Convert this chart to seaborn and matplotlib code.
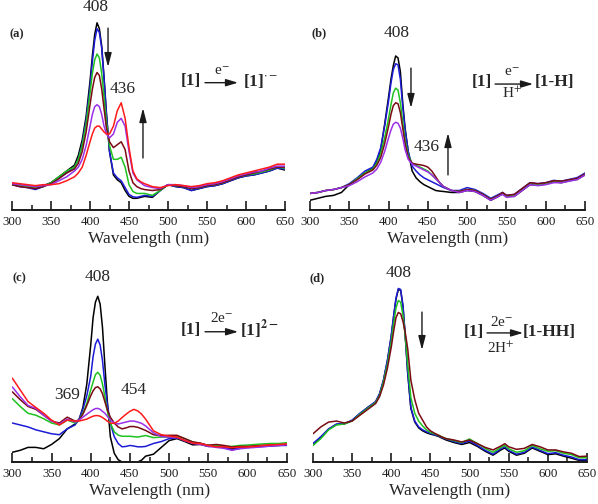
import matplotlib
matplotlib.use("Agg")
import matplotlib.pyplot as plt
import seaborn as sns
import pandas as pd

# wavelength grid (nm) shared by all spectra
WL = [300, 310, 320, 330, 340, 350, 360, 370, 380,
      385, 390, 395, 400,
      403, 406, 409, 412, 415, 418, 421,
      425, 430, 435, 440, 445, 450, 455, 460, 465, 470,
      480, 490, 500, 510, 520, 530, 540,
      545,
      550, 560, 570, 580, 590, 600, 610, 620, 630, 640, 650]

# (a) [1] + e-
A_BLACK = [.13, .125, .12, .11, .125, .14, .17, .2, .23,
           .28, .36, .48, .66,
           .79, .9, .96, .93, .84, .68, .5,
           .3, .18, .155, .14, .1, .07, .06, .06, .065, .07,
           .065, .1, .13, .12, .115, .1, .11,
           .115,
           .12, .125, .135, .15, .165, .175, .18, .19, .2, .215, .205]
A_BLUE = [.13, .12, .115, .105, .12, .14, .165, .19, .22,
          .26, .34, .46, .63,
          .76, .87, .93, .91, .83, .67, .49,
          .3, .19, .165, .15, .115, .08, .068, .065, .07, .075,
          .07, .1, .13, .12, .115, .1, .11,
          .115,
          .12, .125, .135, .15, .165, .175, .18, .19, .2, .215, .21]
A_GREEN = [.13, .125, .12, .115, .12, .14, .17, .2, .22,
           .26, .33, .44, .6,
           .7, .77, .8, .78, .7, .58, .45,
           .33, .26, .26, .27, .22, .13, .095, .085, .085, .085,
           .075, .1, .13, .125, .12, .11, .115,
           .12,
           .125, .13, .14, .155, .17, .18, .185, .195, .205, .22, .215]
A_MAROON = [.13, .12, .115, .11, .12, .135, .16, .19, .21,
            .24, .3, .4, .54,
            .62, .68, .705, .69, .62, .52, .42,
            .35, .32, .335, .35, .31, .2, .14, .12, .11, .105,
            .1, .105, .13, .125, .12, .11, .115,
            .12,
            .125, .13, .14, .155, .17, .18, .19, .2, .21, .22, .22]
A_PURPLE = [.135, .13, .125, .12, .125, .13, .15, .17, .2,
            .22, .26, .33, .43,
            .49, .53, .54, .53, .49, .43, .39,
            .37, .39, .45, .47, .43, .3, .19, .155, .14, .125,
            .115, .11, .13, .13, .125, .115, .12,
            .125,
            .13, .135, .145, .16, .175, .185, .195, .2, .215, .225, .225]
A_RED = [.14, .135, .13, .125, .13, .13, .135, .15, .17,
         .19, .22, .28, .35,
         .39, .42, .43, .43, .415, .4, .39,
         .39, .43, .51, .55, .47, .32, .2, .16, .145, .135,
         .12, .115, .125, .13, .125, .12, .125,
         .13,
         .135, .14, .15, .165, .18, .19, .2, .21, .22, .235, .235]

# (b) [1] + e-/H+
B_BLACK = [.05, .06, .07, .075, .09, .13, .16, .19, .215,
           .25, .31, .44, .58,
           .67, .74, .79, .78, .71, .55, .42,
           .3, .2, .165, .145, .13, .12, .11, .1, .097, .095,
           .09, .09, .1, .095, .075, .05, .07,
           .085,
           .07, .07, .1, .13, .128, .133, .145, .14, .15, .157, .18]
B_BLUE = [.085, .09, .1, .105, .115, .135, .165, .2, .22,
          .26, .32, .43, .56,
          .65, .72, .75, .745, .67, .53, .41,
          .3, .225, .2, .18, .165, .155, .145, .135, .125, .115,
          .1, .1, .115, .105, .085, .06, .08,
          .09,
          .075, .08, .11, .14, .135, .14, .152, .148, .157, .166, .19]
B_GREEN = [.085, .09, .1, .105, .115, .13, .16, .19, .21,
           .24, .29, .37, .47,
           .54, .6, .625, .615, .55, .45, .36,
           .28, .24, .23, .22, .21, .2, .18, .16, .14, .12,
           .1, .095, .105, .1, .08, .055, .075,
           .085,
           .07, .075, .105, .135, .13, .135, .148, .145, .152, .16, .185]
B_MAROON = [.085, .09, .1, .105, .115, .13, .155, .185, .205,
            .23, .27, .34, .43,
            .49, .535, .55, .545, .5, .42, .34,
            .27, .24, .235, .232, .228, .22, .2, .17, .14, .12,
            .1, .095, .105, .1, .08, .055, .075,
            .09,
            .075, .08, .11, .14, .135, .14, .15, .148, .155, .162, .185]
B_PURPLE = [.085, .09, .1, .105, .115, .125, .145, .17, .19,
            .21, .245, .3, .37,
            .41, .44, .45, .445, .42, .37, .31,
            .26, .235, .225, .215, .205, .195, .18, .16, .14, .12,
            .1, .09, .1, .095, .075, .05, .07,
            .08,
            .065, .07, .1, .13, .125, .13, .14, .14, .148, .156, .18]

# (c) [1] + 2e-
C_BLACK = [.05, .06, .075, .075, .068, .09, .12, .17, .195,
           .215, .28, .4, .6,
           .74, .82, .85, .81, .69, .5, .32,
           .13, .045, .012, 0, 0, 0, 0, 0, .01, .03,
           .04, .075, .11, .12, .105, .088, .09,
           .085,
           .08, .083, .08, .068, .075, .078, .08, .083, .085, .085, .088]
C_BLUE = [.2, .19, .18, .165, .155, .145, .14, .17, .19,
          .22, .27, .34, .44,
          .54, .605, .63, .6, .52, .4, .3,
          .2, .13, .095, .078, .08, .085, .082, .078, .078, .08,
          .095, .105, .12, .125, .11, .097, .093,
          .09,
          .085, .08, .075, .063, .07, .075, .078, .08, .082, .085, .085]
C_GREEN = [.325, .285, .25, .24, .222, .2, .19, .215, .2,
           .215, .25, .3, .37,
           .41, .448, .46, .445, .4, .335, .265,
           .2, .155, .138, .132, .132, .132, .13, .128, .132, .136,
           .125, .128, .128, .132, .12, .103, .095,
           .09,
           .086, .085, .082, .08, .085, .087, .09, .093, .095, .095, .099]
C_MAROON = [.36, .32, .285, .27, .24, .21, .2, .23, .21,
            .215, .245, .29, .34,
            .365, .382, .386, .375, .35, .31, .27,
            .23, .2, .18, .17, .175, .182, .182, .178, .17, .162,
            .14, .135, .137, .137, .12, .103, .097,
            .09,
            .086, .09, .085, .077, .08, .08, .083, .085, .087, .088, .09]
C_PURPLE = [.385, .335, .29, .275, .24, .21, .195, .22, .205,
            .215, .23, .245, .26,
            .268, .274, .275, .27, .26, .25, .235,
            .215, .2, .195, .2, .205, .21, .21, .205, .198, .185,
            .15, .13, .128, .125, .11, .095, .09,
            .085,
            .08, .075, .07, .06, .068, .072, .075, .078, .082, .085, .088]
C_RED = [.43, .37, .31, .28, .25, .215, .19, .215, .21,
         .21, .215, .22, .23,
         .235, .238, .238, .235, .228, .22, .21,
         .2, .198, .21, .228, .245, .26, .27, .262, .245, .22,
         .16, .14, .133, .128, .11, .097, .094,
         .09,
         .085, .078, .078, .073, .077, .077, .08, .085, .088, .09, .093]

# (d) [1] + 2e-/2H+
D_BLACK = [.09, .125, .168, .193, .195, .213, .248, .28, .308,
           .348, .418, .518, .645,
           .745, .835, .885, .88, .795, .635, .455,
           .275, .205, .175, .16, .15, .143, .138, .132, .122, .113,
           .1, .09, .1, .08, .055, .035, .062,
           .072,
           .055, .035, .045, .072, .055, .038, .042, .03, .02, .008, .008]
D_BLUE = [.095, .13, .17, .195, .197, .215, .25, .28, .31,
          .35, .42, .52, .65,
          .75, .84, .89, .885, .8, .64, .46,
          .28, .21, .18, .165, .155, .147, .14, .135, .125, .118,
          .105, .095, .108, .085, .06, .04, .068,
          .078,
          .06, .04, .05, .077, .06, .043, .048, .035, .026, .012, .012]
D_GREEN = [.085, .12, .165, .19, .195, .21, .245, .275, .305,
           .34, .41, .5, .62,
           .71, .79, .828, .82, .75, .64, .5,
           .33, .25, .21, .185, .165, .152, .145, .138, .128, .12,
           .11, .1, .118, .095, .07, .05, .075,
           .085,
           .068, .05, .058, .085, .068, .055, .058, .045, .038, .022, .022]
D_MAROON = [.145, .18, .205, .21, .2, .21, .24, .27, .3,
            .335, .395, .48, .59,
            .67, .74, .767, .76, .72, .66, .58,
            .42, .32, .25, .215, .18, .16, .148, .138, .128, .12,
            .113, .103, .113, .094, .075, .062, .082,
            .094,
            .078, .065, .07, .09, .078, .062, .062, .052, .045, .028, .03]

COLORS = {"black": "#000000", "blue": "#1c1cd6", "green": "#1fc21f",
          "maroon": "#7a0a14", "purple": "#9a30e8", "red": "#ff1a1a"}

PANELS = [
    ("(a)", {"black": A_BLACK, "blue": A_BLUE, "green": A_GREEN,
             "maroon": A_MAROON, "purple": A_PURPLE, "red": A_RED}),
    ("(b)", {"black": B_BLACK, "blue": B_BLUE, "green": B_GREEN,
             "maroon": B_MAROON, "purple": B_PURPLE}),
    ("(c)", {"black": C_BLACK, "blue": C_BLUE, "green": C_GREEN,
             "maroon": C_MAROON, "purple": C_PURPLE, "red": C_RED}),
    ("(d)", {"black": D_BLACK, "blue": D_BLUE, "green": D_GREEN,
             "maroon": D_MAROON}),
]
TAG_POS = [(306.4, .903), (312.1, .908), (308.5, .944), (305.7, .944)]

# axes boxes in figure fractions
BOXES = [[0.0201, 0.5833, 0.4565, 0.3869],
         [0.5184, 0.5833, 0.4599, 0.3869],
         [0.0206, 0.0833, 0.4589, 0.3869],
         [0.5234, 0.0833, 0.4582, 0.3869]]

sns.set_theme(style="white")
plt.rcParams["font.family"] = ["Liberation Serif", "DejaVu Serif"]
plt.rcParams["mathtext.fontset"] = "stix"

fig = plt.figure(figsize=(5.98, 5.04), dpi=100)
axes = []
for (tag, curves), box, tp in zip(PANELS, BOXES, TAG_POS):
    ax = fig.add_axes(box)
    df = pd.concat([pd.DataFrame({"wl": WL, "a": v, "s": k}) for k, v in curves.items()])
    sns.lineplot(data=df, x="wl", y="a", hue="s", hue_order=list(curves.keys()),
                 palette=COLORS, estimator=None, sort=False, legend=False,
                 linewidth=1.1, ax=ax)
    ax.set_xlim(300, 650)
    ax.set_ylim(0, 1)
    for s in ("left", "top", "right"):
        ax.spines[s].set_visible(False)
    ax.spines["bottom"].set_linewidth(1.4)
    ax.spines["bottom"].set_color("k")
    ax.set_yticks([])
    ax.set_xticks(range(300, 651, 50))
    ax.set_xticks(range(325, 651, 50), minor=True)
    ax.tick_params(axis="x", which="major", bottom=True, direction="in",
                   length=6.5, width=1.2, pad=4, labelsize=9.3, colors="k")
    ax.tick_params(axis="x", which="minor", bottom=True, direction="in",
                   length=3.5, width=1.2)
    ax.set_xlabel("Wavelength (nm)", fontsize=12.5, labelpad=2.5)
    ax.set_ylabel("")
    ax.patch.set_alpha(0)
    ax.text(tp[0], tp[1], tag, fontsize=9, fontweight="bold", ha="center", va="center")
    axes.append(ax)

ax_a, ax_b, ax_c, ax_d = axes
lab = dict(fontsize=12.5, ha="center", va="center")
arr = dict(arrowstyle="-|>,head_width=0.18,head_length=0.7", color="k", lw=1.0,
           shrinkA=0, shrinkB=0)
rarr = dict(arrowstyle="-|>,head_width=0.18,head_length=0.6", color="k", lw=1.0,
            shrinkA=0, shrinkB=0)
rx = dict(fontsize=12.5, fontweight="bold", va="center")
sm = dict(fontsize=11, ha="center", va="center")

# (a)
ax_a.text(407.7, 1.041, "408", **lab)
ax_a.text(441.7, 0.62, "436", **lab)
ax_a.annotate("", xy=(423.1, .733), xytext=(423.1, .933), arrowprops=arr)
ax_a.annotate("", xy=(467.9, .523), xytext=(467.9, .267), arrowprops=arr)
ax_a.text(529.5, .662, "[1]", ha="center", **rx)
ax_a.annotate("", xy=(589.7, .653), xytext=(547.4, .653), arrowprops=rarr)
ax_a.text(569.2, .712, r"e$^{-}$", **sm)
ax_a.text(596.1, .662, r"[1]$^{\cdot-}$", ha="left", **rx)

# (b)
ax_b.text(410.1, .908, "408", **lab)
ax_b.text(448.9, .323, "436", **lab)
ax_b.annotate("", xy=(428.5, .523), xytext=(428.5, .728), arrowprops=arr)
ax_b.annotate("", xy=(475.6, .395), xytext=(475.6, .18), arrowprops=arr)
ax_b.text(518.3, .658, "[1]", ha="center", **rx)
ax_b.annotate("", xy=(583.8, .646), xytext=(535.5, .646), arrowprops=rarr)
ax_b.text(557.1, .705, r"e$^{-}$", **sm)
ax_b.text(557.1, .6, r"H$^{+}$", **sm)
ax_b.text(586.4, .656, "[1-H]", ha="left", **rx)

# (c)
ax_c.text(409.3, .949, "408", **lab)
ax_c.text(369.4, .344, "369", **lab)
ax_c.text(455.2, .369, "454", **lab)
ax_c.text(527.9, .677, "[1]", ha="center", **rx)
ax_c.annotate("", xy=(587.9, .668), xytext=(545.8, .668), arrowprops=rarr)
ax_c.text(566.8, .738, r"2e$^{-}$", **sm)
ax_c.text(590.5, .677, r"[1]$^{\mathbf{2-}}$", ha="left", **rx)

# (d)
ax_d.text(409.2, .969, "408", **lab)
ax_d.annotate("", xy=(439.2, .574), xytext=(439.2, .769), arrowprops=arr)
ax_d.text(505, .668, "[1]", ha="center", **rx)
ax_d.annotate("", xy=(568.3, .662), xytext=(522.3, .662), arrowprops=rarr)
ax_d.text(540.8, .72, r"2e$^{-}$", **sm)
ax_d.text(540.2, .585, r"2H$^{+}$", **sm)
ax_d.text(568.3, .668, "[1-HH]", ha="left", **rx)

fig.savefig("out.png", dpi=100)
